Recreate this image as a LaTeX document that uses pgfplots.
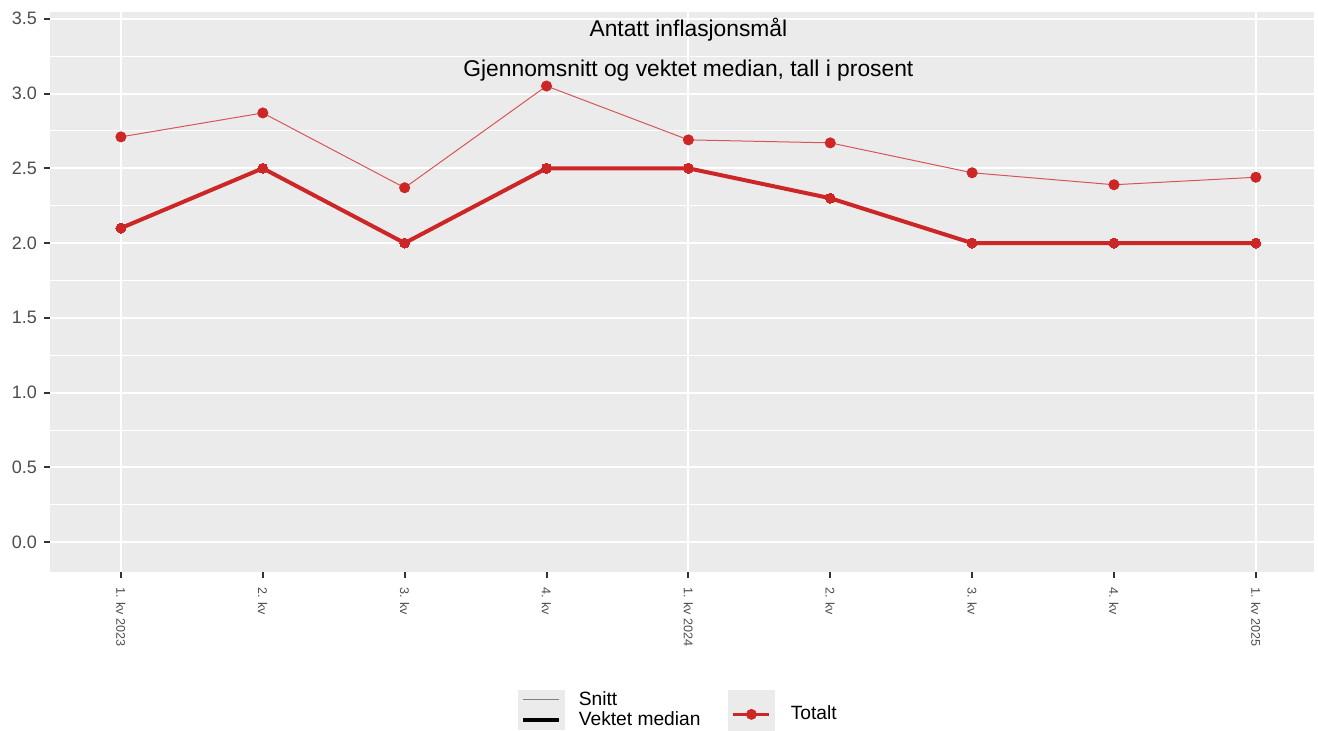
\documentclass[border=0pt]{standalone}
\usepackage{fontspec}
\setmainfont{Liberation Sans}
\usepackage{pgfplots}
\pgfplotsset{compat=1.18}
\definecolor{panelbg}{HTML}{EBEBEB}
\definecolor{tred}{RGB}{205,38,38}
\definecolor{grey30}{HTML}{4D4D4D}
\definecolor{grey20}{HTML}{333333}
\begin{document}
\begin{tikzpicture}
\begin{axis}[
  at={(0pt,0pt)}, anchor=south west,
  scale only axis, width=632pt, height=280pt,
  xmin=-0.5, xmax=8.41, ymin=-0.199, ymax=3.545,
  axis background/.style={fill=panelbg},
  axis lines*=left, axis line style={draw=none},
  tick align=outside, major tick length=3pt, minor tick length=0pt,
  tick style={grey20, line width=1pt},
  xtick={0,1,2,3,4,5,6,7,8},
  xticklabels={1. kv 2023, 2. kv, 3. kv, 4. kv, 1. kv 2024, 2. kv, 3. kv, 4. kv, 1. kv 2025},
  xticklabel style={rotate=-90, anchor=west, font=\fontsize{6.3}{7}\selectfont, text=grey30, inner sep=4.5pt},
  extra x ticks={0,4,8}, extra x tick labels={},
  extra x tick style={grid=major, major tick length=0pt},
  ytick={0,0.5,1,1.5,2,2.5,3,3.5},
  minor ytick={0.25,0.75,1.25,1.75,2.25,2.75,3.25},
  ymajorgrids=true, yminorgrids=true,
  major grid style={white, line width=1pt},
  minor grid style={white, line width=0.5pt},
  yticklabel style={font=\fontsize{9}{10}\selectfont, text=grey30,
    /pgf/number format/.cd, fixed, fixed zerofill, precision=1, assume math mode=true},
  legend style={at={(axis description cs:0.3703,-0.2107)}, anchor=north west,
    draw=none, fill=none, inner sep=0pt, outer sep=0pt, row sep=0pt, column sep=7pt,
    font=\fontsize{9.6}{10}\selectfont, nodes={inner sep=0pt}},
  legend cell align=left,
]
\addlegendimage{legend image code/.code={\fill[panelbg] (0pt,-4.75pt) rectangle (23pt,4.75pt); \draw[gray, line width=0.6pt] (2.5pt,0pt) -- (20.5pt,0pt);}}
\addlegendentry{Snitt}
\addlegendimage{legend image code/.code={\fill[panelbg] (0pt,-4.75pt) rectangle (23pt,4.75pt); \draw[black, line width=2pt] (2.5pt,0pt) -- (20.5pt,0pt);}}
\addlegendentry{Vektet median}

\addplot[forget plot, color=tred!75!panelbg, line width=0.5pt, mark=*, mark size=2.5pt, mark options={fill=tred, draw=tred}]
  coordinates {(0,2.71) (1,2.87) (2,2.37) (3,3.05) (4,2.69) (5,2.67) (6,2.47) (7,2.39) (8,2.44)};
\addplot[forget plot, color=tred, line width=2pt, mark=*, mark size=2.5pt, mark options={fill=tred, draw=tred, line width=0pt}]
  coordinates {(0,2.1) (1,2.5) (2,2.0) (3,2.5) (4,2.5) (5,2.3) (6,2.0) (7,2.0) (8,2.0)};

\node[anchor=base, font=\fontsize{11.4}{13}\selectfont] at (axis cs:4,3.384) {Antatt inflasjonsmål};
\node[anchor=base, font=\fontsize{11.4}{13}\selectfont] at (axis cs:4,3.117) {Gjennomsnitt og vektet median, tall i prosent};
\end{axis}
\begin{axis}[
  at={(0pt,0pt)}, anchor=south west,
  scale only axis, width=632pt, height=280pt,
  hide axis, xmin=0, xmax=1, ymin=0, ymax=1,
  legend style={at={(axis description cs:0.5364,-0.2107)}, anchor=north west,
    draw=none, fill=none, inner sep=0pt, outer sep=0pt, row sep=0pt, column sep=8pt,
    font=\fontsize{9.6}{10}\selectfont, nodes={inner sep=0pt}},
  legend cell align=left,
]
\addlegendimage{legend image code/.code={\fill[panelbg] (0pt,-8pt) rectangle (23pt,12pt); \draw[tred, line width=1.2pt] (2.5pt,0pt) -- (20.5pt,0pt); \fill[tred] (11.5pt,0pt) circle (2.5pt);}}
\addlegendentry{Totalt}
\end{axis}
\pgfresetboundingbox
\path[use as bounding box] (-25pt,-79.5pt) rectangle (634pt,286pt);
\end{tikzpicture}
\end{document}
